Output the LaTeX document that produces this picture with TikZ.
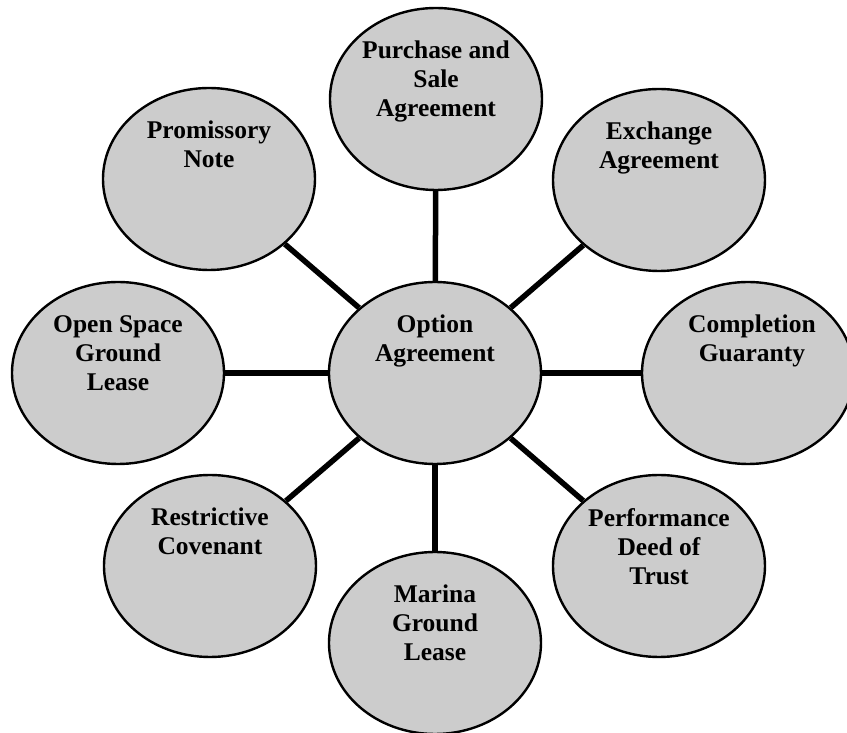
\documentclass[tikz,border=0pt]{standalone}
\usepackage{fontspec}
\setmainfont{Liberation Serif}
\usetikzlibrary{shapes.geometric}

\begin{document}
\begin{tikzpicture}[
  x=1pt, y=1pt,
  bubble/.style={ellipse, draw, line width=2.4pt, fill=black!20, minimum width=212pt, minimum height=182pt, inner sep=0pt},
  bubbletext/.style={anchor=north, align=center, inner sep=0pt, font=\fontsize{25.5}{29}\selectfont\bfseries},
  link/.style={line width=5.5pt}
]
\useasboundingbox (-435,373) rectangle (412,-360);

\node[bubble] (opt) at (0,0) {};
\node[bubble] (pur) at (1,274) {};
\node[bubble] (exc) at (224,193) {};
\node[bubble] (com) at (313,0) {};
\node[bubble] (per) at (224,-193) {};
\node[bubble] (mar) at (0,-270) {};
\node[bubble] (res) at (-225,-193) {};
\node[bubble] (ope) at (-317,0) {};
\node[bubble] (pro) at (-226,194) {};

\node[bubbletext] (opt-t) at ([yshift=58pt]opt.center) {Option\\Agreement};
\node[bubbletext] (pur-t) at ([yshift=58pt]pur.center) {Purchase and\\Sale\\Agreement};
\node[bubbletext] (exc-t) at ([yshift=58pt]exc.center) {Exchange\\Agreement};
\node[bubbletext] (com-t) at ([xshift=4pt,yshift=58pt]com.center) {Completion\\Guaranty};
\node[bubbletext] (per-t) at ([yshift=58pt]per.center) {Performance\\Deed of\\Trust};
\node[bubbletext] (mar-t) at ([yshift=58pt]mar.center) {Marina\\Ground\\Lease};
\node[bubbletext] (res-t) at ([yshift=58pt]res.center) {Restrictive\\Covenant};
\node[bubbletext] (ope-t) at ([yshift=58pt]ope.center) {Open Space\\Ground\\Lease};
\node[bubbletext] (pro-t) at ([yshift=58pt]pro.center) {Promissory\\Note};

\draw[link] (opt) -- (pur);
\draw[link] (opt) -- (exc);
\draw[link] (opt) -- (com);
\draw[link] (opt) -- (per);
\draw[link] (opt) -- (mar);
\draw[link] (opt) -- (res);
\draw[link] (opt) -- (ope);
\draw[link] (opt) -- (pro);
\end{tikzpicture}
\end{document}
